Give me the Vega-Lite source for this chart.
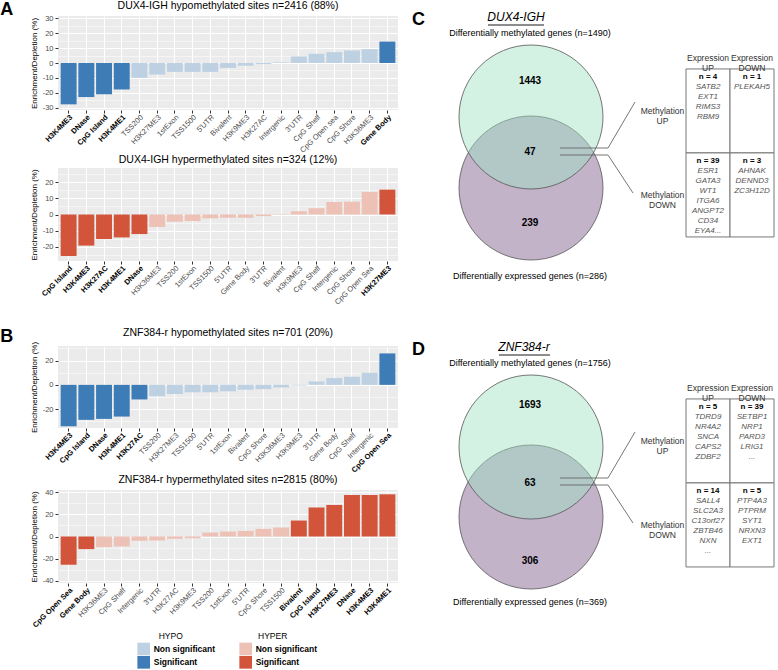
{
"$schema": "https://vega.github.io/schema/vega-lite/v6.json",
"padding": {"left": 0, "top": 0, "right": 0, "bottom": 0},
"background": "white",
"config": {
  "font": "Liberation Sans",
  "view": {"stroke": null},
  "title": {"font": "Liberation Sans", "fontSize": 10.5, "fontWeight": "normal", "color": "#000000"},
  "axis": {"labelFont": "Liberation Sans", "titleFont": "Liberation Sans"}
},
"datasets": {
  "a1": [
    {"feature": "H3K4ME3", "enrichment": -27.8, "class": "HYPO Significant"},
    {"feature": "DNase", "enrichment": -22.9, "class": "HYPO Significant"},
    {"feature": "CpG Island", "enrichment": -21.0, "class": "HYPO Significant"},
    {"feature": "H3K4ME1", "enrichment": -17.8, "class": "HYPO Significant"},
    {"feature": "TSS200", "enrichment": -10.0, "class": "HYPO Non significant"},
    {"feature": "H3K27ME3", "enrichment": -7.8, "class": "HYPO Non significant"},
    {"feature": "1stExon", "enrichment": -6.0, "class": "HYPO Non significant"},
    {"feature": "TSS1500", "enrichment": -6.0, "class": "HYPO Non significant"},
    {"feature": "5'UTR", "enrichment": -6.0, "class": "HYPO Non significant"},
    {"feature": "Bivalent", "enrichment": -3.3, "class": "HYPO Non significant"},
    {"feature": "H3K9ME3", "enrichment": -1.8, "class": "HYPO Non significant"},
    {"feature": "H3K27AC", "enrichment": -0.7, "class": "HYPO Non significant"},
    {"feature": "Intergenic", "enrichment": 0.4, "class": "HYPO Non significant"},
    {"feature": "3'UTR", "enrichment": 4.4, "class": "HYPO Non significant"},
    {"feature": "CpG Shelf", "enrichment": 6.2, "class": "HYPO Non significant"},
    {"feature": "CpG Open sea", "enrichment": 7.3, "class": "HYPO Non significant"},
    {"feature": "CpG Shore", "enrichment": 8.4, "class": "HYPO Non significant"},
    {"feature": "H3K36ME3", "enrichment": 9.3, "class": "HYPO Non significant"},
    {"feature": "Gene Body", "enrichment": 14.4, "class": "HYPO Significant"}
  ],
  "a2": [
    {"feature": "CpG Island", "enrichment": -25.9, "class": "HYPER Significant"},
    {"feature": "H3K4ME3", "enrichment": -19.4, "class": "HYPER Significant"},
    {"feature": "H3K27AC", "enrichment": -15.3, "class": "HYPER Significant"},
    {"feature": "H3K4ME1", "enrichment": -14.3, "class": "HYPER Significant"},
    {"feature": "DNase", "enrichment": -12.2, "class": "HYPER Significant"},
    {"feature": "H3K36ME3", "enrichment": -7.8, "class": "HYPER Non significant"},
    {"feature": "TSS200", "enrichment": -4.5, "class": "HYPER Non significant"},
    {"feature": "1stExon", "enrichment": -4.1, "class": "HYPER Non significant"},
    {"feature": "TSS1500", "enrichment": -2.4, "class": "HYPER Non significant"},
    {"feature": "5'UTR", "enrichment": -2.0, "class": "HYPER Non significant"},
    {"feature": "Gene Body", "enrichment": -2.0, "class": "HYPER Non significant"},
    {"feature": "3'UTR", "enrichment": -1.0, "class": "HYPER Non significant"},
    {"feature": "Bivalent", "enrichment": -0.2, "class": "HYPER Non significant"},
    {"feature": "H3K9ME3", "enrichment": 2.0, "class": "HYPER Non significant"},
    {"feature": "CpG Shelf", "enrichment": 3.9, "class": "HYPER Non significant"},
    {"feature": "Intergenic", "enrichment": 7.8, "class": "HYPER Non significant"},
    {"feature": "CpG Shore", "enrichment": 8.0, "class": "HYPER Non significant"},
    {"feature": "CpG Open Sea", "enrichment": 14.1, "class": "HYPER Non significant"},
    {"feature": "H3K27ME3", "enrichment": 15.5, "class": "HYPER Significant"}
  ],
  "b1": [
    {"feature": "H3K4ME3", "enrichment": -34.1, "class": "HYPO Significant"},
    {"feature": "CpG Island", "enrichment": -28.8, "class": "HYPO Significant"},
    {"feature": "DNase", "enrichment": -28.0, "class": "HYPO Significant"},
    {"feature": "H3K4ME1", "enrichment": -26.1, "class": "HYPO Significant"},
    {"feature": "H3K27AC", "enrichment": -12.0, "class": "HYPO Significant"},
    {"feature": "TSS200", "enrichment": -9.3, "class": "HYPO Non significant"},
    {"feature": "H3K27ME3", "enrichment": -7.5, "class": "HYPO Non significant"},
    {"feature": "TSS1500", "enrichment": -6.1, "class": "HYPO Non significant"},
    {"feature": "5'UTR", "enrichment": -6.1, "class": "HYPO Non significant"},
    {"feature": "1stExon", "enrichment": -5.3, "class": "HYPO Non significant"},
    {"feature": "Bivalent", "enrichment": -4.0, "class": "HYPO Non significant"},
    {"feature": "CpG Shore", "enrichment": -3.5, "class": "HYPO Non significant"},
    {"feature": "H3K36ME3", "enrichment": -2.1, "class": "HYPO Non significant"},
    {"feature": "H3K9ME3", "enrichment": -0.5, "class": "HYPO Non significant"},
    {"feature": "3'UTR", "enrichment": 2.7, "class": "HYPO Non significant"},
    {"feature": "Gene Body", "enrichment": 5.6, "class": "HYPO Non significant"},
    {"feature": "CpG Shelf", "enrichment": 6.7, "class": "HYPO Non significant"},
    {"feature": "Intergenic", "enrichment": 9.9, "class": "HYPO Non significant"},
    {"feature": "CpG Open Sea", "enrichment": 25.9, "class": "HYPO Significant"}
  ],
  "b2": [
    {"feature": "CpG Open Sea", "enrichment": -25.5, "class": "HYPER Significant"},
    {"feature": "Gene Body", "enrichment": -11.4, "class": "HYPER Significant"},
    {"feature": "H3K36ME3", "enrichment": -9.6, "class": "HYPER Non significant"},
    {"feature": "CpG Shelf", "enrichment": -9.0, "class": "HYPER Non significant"},
    {"feature": "Intergenic", "enrichment": -3.9, "class": "HYPER Non significant"},
    {"feature": "3'UTR", "enrichment": -3.6, "class": "HYPER Non significant"},
    {"feature": "H3K27AC", "enrichment": -2.1, "class": "HYPER Non significant"},
    {"feature": "H3K9ME3", "enrichment": -1.5, "class": "HYPER Non significant"},
    {"feature": "TSS200", "enrichment": 3.6, "class": "HYPER Non significant"},
    {"feature": "1stExon", "enrichment": 4.5, "class": "HYPER Non significant"},
    {"feature": "5'UTR", "enrichment": 5.1, "class": "HYPER Non significant"},
    {"feature": "CpG Shore", "enrichment": 6.9, "class": "HYPER Non significant"},
    {"feature": "TSS1500", "enrichment": 8.1, "class": "HYPER Non significant"},
    {"feature": "Bivalent", "enrichment": 14.4, "class": "HYPER Significant"},
    {"feature": "CpG Island", "enrichment": 26.1, "class": "HYPER Significant"},
    {"feature": "H3K27ME3", "enrichment": 28.5, "class": "HYPER Significant"},
    {"feature": "DNase", "enrichment": 37.5, "class": "HYPER Significant"},
    {"feature": "H3K4ME3", "enrichment": 37.5, "class": "HYPER Significant"},
    {"feature": "H3K4ME1", "enrichment": 38.1, "class": "HYPER Significant"}
  ],
  "legend": [
    {"group": "HYPO", "row": "title", "label": "HYPO"},
    {"group": "HYPO", "row": "Non significant", "label": "Non significant", "class": "HYPO Non significant"},
    {"group": "HYPO", "row": "Significant", "label": "Significant", "class": "HYPO Significant"},
    {"group": "HYPER", "row": "title", "label": "HYPER"},
    {"group": "HYPER", "row": "Non significant", "label": "Non significant", "class": "HYPER Non significant"},
    {"group": "HYPER", "row": "Significant", "label": "Significant", "class": "HYPER Significant"}
  ],
  "venn_c_sets": [
    {"set": "Differentially expressed genes", "x": 91, "y": 172},
    {"set": "Differentially methylated genes", "x": 91, "y": 101}
  ],
  "venn_c_text": [
    {"kind": "title", "label": "DUX4-IGH", "x": 76, "y": 1},
    {"kind": "underline", "x": 48, "x2": 104, "y": 9},
    {"kind": "caption", "label": "Differentially methylated genes (n=1490)", "x": 90, "y": 17},
    {"kind": "caption", "label": "Differentially expressed genes (n=286)", "x": 90, "y": 260},
    {"kind": "count", "label": "1443", "x": 90, "y": 65},
    {"kind": "count", "label": "47", "x": 90, "y": 136},
    {"kind": "count", "label": "239", "x": 90, "y": 207}
  ],
  "venn_c_links": [
    {"link": "Methylation UP", "step": 1, "x": 120, "y": 132},
    {"link": "Methylation UP", "step": 2, "x": 168, "y": 132},
    {"link": "Methylation UP", "step": 3, "x": 195, "y": 86},
    {"link": "Methylation DOWN", "step": 1, "x": 120, "y": 139},
    {"link": "Methylation DOWN", "step": 2, "x": 168, "y": 139},
    {"link": "Methylation DOWN", "step": 3, "x": 193, "y": 177}
  ],
  "venn_d_sets": [
    {"set": "Differentially expressed genes", "x": 91, "y": 171},
    {"set": "Differentially methylated genes", "x": 91, "y": 101}
  ],
  "venn_d_text": [
    {"kind": "title", "label": "ZNF384-r", "x": 84, "y": 1},
    {"kind": "underline", "x": 59, "x2": 110, "y": 9},
    {"kind": "caption", "label": "Differentially methylated genes (n=1756)", "x": 90, "y": 17},
    {"kind": "caption", "label": "Differentially expressed genes (n=369)", "x": 90, "y": 256},
    {"kind": "count", "label": "1693", "x": 90, "y": 59},
    {"kind": "count", "label": "63", "x": 90, "y": 137},
    {"kind": "count", "label": "306", "x": 90, "y": 215}
  ],
  "venn_d_links": [
    {"link": "Methylation UP", "step": 1, "x": 120, "y": 132},
    {"link": "Methylation UP", "step": 2, "x": 168, "y": 132},
    {"link": "Methylation UP", "step": 3, "x": 195, "y": 86},
    {"link": "Methylation DOWN", "step": 1, "x": 120, "y": 139},
    {"link": "Methylation DOWN", "step": 2, "x": 168, "y": 139},
    {"link": "Methylation DOWN", "step": 3, "x": 193, "y": 177}
  ],
  "table_c": [
    {"methylation": "Methylation UP", "expression": "Expression UP", "n": "n = 4", "genes": "SATB2\nEXT1\nRIMS3\nRBM9"},
    {"methylation": "Methylation UP", "expression": "Expression DOWN", "n": "n = 1", "genes": "PLEKAH5"},
    {"methylation": "Methylation DOWN", "expression": "Expression UP", "n": "n = 39", "genes": "ESR1\nGATA3\nWT1\nITGA6\nANGPT2\nCD34\nEYA4..."},
    {"methylation": "Methylation DOWN", "expression": "Expression DOWN", "n": "n = 3", "genes": "AHNAK\nDENND3\nZC3H12D"}
  ],
  "table_d": [
    {"methylation": "Methylation UP", "expression": "Expression UP", "n": "n = 5", "genes": "TDRD9\nNR4A2\nSNCA\nCAPS2\nZDBF2"},
    {"methylation": "Methylation UP", "expression": "Expression DOWN", "n": "n = 39", "genes": "SETBP1\nNRP1\nPARD3\nLRIG1\n..."},
    {"methylation": "Methylation DOWN", "expression": "Expression UP", "n": "n = 14", "genes": "SALL4\nSLC2A3\nC13orf27\nZBTB46\nNXN\n..."},
    {"methylation": "Methylation DOWN", "expression": "Expression DOWN", "n": "n = 5", "genes": "PTP4A3\nPTPRM\nSYT1\nNRXN3\nEXT1"}
  ]
},
"spacing": 14,
"hconcat": [
  {
    "spacing": 21,
    "vconcat": [
      {
        "title": {"text": "A", "orient": "left", "anchor": "end", "angle": 0, "fontSize": 18, "fontWeight": "bold", "baseline": "top", "offset": 4},
        "spacing": 0,
        "vconcat": [
          {
            "width": 340, "height": 94,
            "view": {"fill": "#EBEBEB", "stroke": null},
            "title": {"text": "DUX4-IGH hypomethylated sites n=2416 (88%)", "offset": 3},
            "data": {"name": "a1"},
            "mark": {"type": "bar"},
            "encoding": {
              "x": {"field": "feature", "type": "nominal", "sort": null, "title": null,
                "scale": {"paddingInner": 0.1, "paddingOuter": 0.15},
                "axis": {"labelAngle": -45, "labelAlign": "right", "labelBaseline": "top", "labelFontSize": 7.5, "labelPadding": 0, "labelOverlap": false, "tickSize": 3, "tickColor": "#333333", "domain": false, "grid": true, "gridColor": "#FFFFFF", "gridWidth": 1,
                  "labelFontWeight": {"condition": {"test": "indexof(['H3K4ME3','DNase','CpG Island','H3K4ME1','Gene Body'], datum.label) >= 0", "value": "bold"}, "value": "normal"},
                  "labelColor": {"condition": {"test": "indexof(['H3K4ME3','DNase','CpG Island','H3K4ME1','Gene Body'], datum.label) >= 0", "value": "#000000"}, "value": "#4D4D4D"}}},
              "y": {"field": "enrichment", "type": "quantitative", "title": "Enrichment/Depletion (%)",
                "scale": {"domain": [-31.6, 31.6], "nice": false, "zero": false},
                "axis": {"values": [-30, -25, -20, -15, -10, -5, 0, 5, 10, 15, 20, 25, 30], "labelExpr": "datum.value % 10 === 0 ? '' + datum.value : ''", "labelFontSize": 7.5, "labelColor": "#4D4D4D", "labelPadding": 2, "labelOverlap": false, "tickSize": 3, "tickColor": "#333333", "tickOpacity": {"condition": {"test": "datum.value % 10 === 0", "value": 1}, "value": 0}, "domain": false, "grid": true, "gridColor": "#FFFFFF", "gridWidth": {"condition": {"test": "datum.value % 10 === 0", "value": 1}, "value": 0.5}, "titleFontSize": 8, "titleFontWeight": "normal", "titleColor": "#000000", "titlePadding": 4}},
              "color": {"field": "class", "type": "nominal", "legend": null,
                "scale": {"domain": ["HYPO Non significant", "HYPO Significant", "HYPER Non significant", "HYPER Significant"], "range": ["#BDD1E3", "#3D7CB7", "#EDC1B6", "#D2543A"]}}
            }
          },
          {
            "width": 340, "height": 93,
            "view": {"fill": "#EBEBEB", "stroke": null},
            "title": {"text": "DUX4-IGH hypermethylated sites n=324 (12%)", "offset": 3},
            "data": {"name": "a2"},
            "mark": {"type": "bar"},
            "encoding": {
              "x": {"field": "feature", "type": "nominal", "sort": null, "title": null,
                "scale": {"paddingInner": 0.1, "paddingOuter": 0.15},
                "axis": {"labelAngle": -45, "labelAlign": "right", "labelBaseline": "top", "labelFontSize": 7.5, "labelPadding": 0, "labelOverlap": false, "tickSize": 3, "tickColor": "#333333", "domain": false, "grid": true, "gridColor": "#FFFFFF", "gridWidth": 1,
                  "labelFontWeight": {"condition": {"test": "indexof(['CpG Island','H3K4ME3','H3K27AC','H3K4ME1','DNase','H3K27ME3'], datum.label) >= 0", "value": "bold"}, "value": "normal"},
                  "labelColor": {"condition": {"test": "indexof(['CpG Island','H3K4ME3','H3K27AC','H3K4ME1','DNase','H3K27ME3'], datum.label) >= 0", "value": "#000000"}, "value": "#4D4D4D"}}},
              "y": {"field": "enrichment", "type": "quantitative", "title": "Enrichment/Depletion (%)",
                "scale": {"domain": [-29, 29], "nice": false, "zero": false},
                "axis": {"values": [-25, -20, -15, -10, -5, 0, 5, 10, 15, 20, 25], "labelExpr": "datum.value % 10 === 0 ? '' + datum.value : ''", "labelFontSize": 7.5, "labelColor": "#4D4D4D", "labelPadding": 2, "labelOverlap": false, "tickSize": 3, "tickColor": "#333333", "tickOpacity": {"condition": {"test": "datum.value % 10 === 0", "value": 1}, "value": 0}, "domain": false, "grid": true, "gridColor": "#FFFFFF", "gridWidth": {"condition": {"test": "datum.value % 10 === 0", "value": 1}, "value": 0.5}, "titleFontSize": 8, "titleFontWeight": "normal", "titleColor": "#000000", "titlePadding": 4}},
              "color": {"field": "class", "type": "nominal", "legend": null,
                "scale": {"domain": ["HYPO Non significant", "HYPO Significant", "HYPER Non significant", "HYPER Significant"], "range": ["#BDD1E3", "#3D7CB7", "#EDC1B6", "#D2543A"]}}
            }
          }
        ]
      },
      {
        "title": {"text": "B", "orient": "left", "anchor": "end", "angle": 0, "fontSize": 18, "fontWeight": "bold", "baseline": "top", "offset": 4},
        "spacing": 0,
        "vconcat": [
          {
            "width": 340, "height": 82,
            "view": {"fill": "#EBEBEB", "stroke": null},
            "title": {"text": "ZNF384-r hypomethylated sites n=701 (20%)", "offset": 3},
            "data": {"name": "b1"},
            "mark": {"type": "bar"},
            "encoding": {
              "x": {"field": "feature", "type": "nominal", "sort": null, "title": null,
                "scale": {"paddingInner": 0.1, "paddingOuter": 0.15},
                "axis": {"labelAngle": -45, "labelAlign": "right", "labelBaseline": "top", "labelFontSize": 7.5, "labelPadding": 0, "labelOverlap": false, "tickSize": 3, "tickColor": "#333333", "domain": false, "grid": true, "gridColor": "#FFFFFF", "gridWidth": 1,
                  "labelFontWeight": {"condition": {"test": "indexof(['H3K4ME3','CpG Island','DNase','H3K4ME1','H3K27AC','CpG Open Sea'], datum.label) >= 0", "value": "bold"}, "value": "normal"},
                  "labelColor": {"condition": {"test": "indexof(['H3K4ME3','CpG Island','DNase','H3K4ME1','H3K27AC','CpG Open Sea'], datum.label) >= 0", "value": "#000000"}, "value": "#4D4D4D"}}},
              "y": {"field": "enrichment", "type": "quantitative", "title": "Enrichment/Depletion (%)",
                "scale": {"domain": [-35.5, 32], "nice": false, "zero": false},
                "axis": {"values": [-30, -20, -10, 0, 10, 20, 30], "labelExpr": "datum.value % 20 === 0 ? '' + datum.value : ''", "labelFontSize": 7.5, "labelColor": "#4D4D4D", "labelPadding": 2, "labelOverlap": false, "tickSize": 3, "tickColor": "#333333", "tickOpacity": {"condition": {"test": "datum.value % 20 === 0", "value": 1}, "value": 0}, "domain": false, "grid": true, "gridColor": "#FFFFFF", "gridWidth": {"condition": {"test": "datum.value % 20 === 0", "value": 1}, "value": 0.5}, "titleFontSize": 8, "titleFontWeight": "normal", "titleColor": "#000000", "titlePadding": 4}},
              "color": {"field": "class", "type": "nominal", "legend": null,
                "scale": {"domain": ["HYPO Non significant", "HYPO Significant", "HYPER Non significant", "HYPER Significant"], "range": ["#BDD1E3", "#3D7CB7", "#EDC1B6", "#D2543A"]}}
            }
          },
          {
            "width": 340, "height": 93,
            "view": {"fill": "#EBEBEB", "stroke": null},
            "title": {"text": "ZNF384-r hypermethylated sites n=2815 (80%)", "offset": 3},
            "data": {"name": "b2"},
            "mark": {"type": "bar"},
            "encoding": {
              "x": {"field": "feature", "type": "nominal", "sort": null, "title": null,
                "scale": {"paddingInner": 0.1, "paddingOuter": 0.15},
                "axis": {"labelAngle": -45, "labelAlign": "right", "labelBaseline": "top", "labelFontSize": 7.5, "labelPadding": 0, "labelOverlap": false, "tickSize": 3, "tickColor": "#333333", "domain": false, "grid": true, "gridColor": "#FFFFFF", "gridWidth": 1,
                  "labelFontWeight": {"condition": {"test": "indexof(['CpG Open Sea','Gene Body','Bivalent','CpG Island','H3K27ME3','DNase','H3K4ME3','H3K4ME1'], datum.label) >= 0", "value": "bold"}, "value": "normal"},
                  "labelColor": {"condition": {"test": "indexof(['CpG Open Sea','Gene Body','Bivalent','CpG Island','H3K27ME3','DNase','H3K4ME3','H3K4ME1'], datum.label) >= 0", "value": "#000000"}, "value": "#4D4D4D"}}},
              "y": {"field": "enrichment", "type": "quantitative", "title": "Enrichment/Depletion (%)",
                "scale": {"domain": [-42, 42], "nice": false, "zero": false},
                "axis": {"values": [-40, -30, -20, -10, 0, 10, 20, 30, 40], "labelExpr": "datum.value % 20 === 0 ? '' + datum.value : ''", "labelFontSize": 7.5, "labelColor": "#4D4D4D", "labelPadding": 2, "labelOverlap": false, "tickSize": 3, "tickColor": "#333333", "tickOpacity": {"condition": {"test": "datum.value % 20 === 0", "value": 1}, "value": 0}, "domain": false, "grid": true, "gridColor": "#FFFFFF", "gridWidth": {"condition": {"test": "datum.value % 20 === 0", "value": 1}, "value": 0.5}, "titleFontSize": 8, "titleFontWeight": "normal", "titleColor": "#000000", "titlePadding": 4}},
              "color": {"field": "class", "type": "nominal", "legend": null,
                "scale": {"domain": ["HYPO Non significant", "HYPO Significant", "HYPER Non significant", "HYPER Significant"], "range": ["#BDD1E3", "#3D7CB7", "#EDC1B6", "#D2543A"]}}
            }
          },
          {
            "width": 340, "height": 40,
            "data": {"name": "legend"},
            "layer": [
              {
                "transform": [{"filter": "datum.row !== 'title'"}],
                "mark": {"type": "point", "shape": "square", "filled": true, "size": 160, "opacity": 1},
                "encoding": {
                  "x": {"field": "group", "type": "nominal", "axis": null, "bandPosition": 0, "scale": {"type": "band", "domain": ["HYPO", "HYPER"], "paddingInner": 0, "paddingOuter": 0.667, "align": 0.63}},
                  "y": {"field": "row", "type": "nominal", "axis": null, "sort": ["title", "Non significant", "Significant"], "scale": {"paddingInner": 0, "paddingOuter": 0}},
                  "color": {"field": "class", "type": "nominal", "legend": null,
                    "scale": {"domain": ["HYPO Non significant", "HYPO Significant", "HYPER Non significant", "HYPER Significant"], "range": ["#BDD1E3", "#3D7CB7", "#EDC1B6", "#D2543A"]}}
                }
              },
              {
                "transform": [{"filter": "datum.row !== 'title'"}],
                "mark": {"type": "text", "align": "left", "baseline": "middle", "dx": 10, "fontSize": 8.5, "fontWeight": "bold", "color": "#000000"},
                "encoding": {
                  "x": {"field": "group", "type": "nominal", "axis": null, "bandPosition": 0, "scale": {"type": "band", "domain": ["HYPO", "HYPER"], "paddingInner": 0, "paddingOuter": 0.667, "align": 0.63}},
                  "y": {"field": "row", "type": "nominal", "axis": null, "sort": ["title", "Non significant", "Significant"], "scale": {"paddingInner": 0, "paddingOuter": 0}},
                  "text": {"field": "label"}
                }
              },
              {
                "transform": [{"filter": "datum.row === 'title'"}],
                "mark": {"type": "text", "align": "center", "baseline": "middle", "dx": 27, "fontSize": 8.5, "color": "#000000"},
                "encoding": {
                  "x": {"field": "group", "type": "nominal", "axis": null, "bandPosition": 0, "scale": {"type": "band", "domain": ["HYPO", "HYPER"], "paddingInner": 0, "paddingOuter": 0.667, "align": 0.63}},
                  "y": {"field": "row", "type": "nominal", "axis": null, "sort": ["title", "Non significant", "Significant"], "scale": {"paddingInner": 0, "paddingOuter": 0}},
                  "text": {"field": "label"}
                }
              }
            ]
          }
        ]
      }
    ]
  },
  {
    "spacing": 35,
    "vconcat": [
      {
        "title": {"text": "C", "orient": "left", "anchor": "end", "angle": 0, "fontSize": 18, "fontWeight": "bold", "baseline": "top", "offset": 2},
        "spacing": 0,
        "hconcat": [
          {
            "width": 200, "height": 290,
            "encoding": {
              "x": {"field": "x", "type": "quantitative", "axis": null, "scale": {"domain": [0, 200], "nice": false, "zero": false}},
              "y": {"field": "y", "type": "quantitative", "axis": null, "scale": {"domain": [0, 290], "nice": false, "zero": false, "reverse": true}}
            },
            "layer": [
              {
                "data": {"name": "venn_c_sets"},
                "mark": {"type": "point", "shape": "circle", "filled": true, "size": 20736, "opacity": 1, "stroke": "#555555", "strokeWidth": 0.8},
                "encoding": {"fill": {"field": "set", "type": "nominal", "legend": null, "scale": {"domain": ["Differentially expressed genes", "Differentially methylated genes"], "range": ["#C2B3C9", "rgba(159,227,196,0.45)"]}}}
              },
              {
                "data": {"name": "venn_c_links"},
                "mark": {"type": "line", "color": "#666666", "strokeWidth": 0.9},
                "encoding": {"detail": {"field": "link"}, "order": {"field": "step"}}
              },
              {
                "data": {"name": "venn_c_text"},
                "transform": [{"filter": "datum.kind === 'underline'"}],
                "mark": {"type": "rule", "color": "#000000", "strokeWidth": 0.9},
                "encoding": {"x2": {"field": "x2"}}
              },
              {
                "data": {"name": "venn_c_text"},
                "transform": [{"filter": "datum.kind === 'title'"}],
                "mark": {"type": "text", "fontSize": 12, "fontStyle": "italic", "baseline": "middle", "color": "#000000"},
                "encoding": {"text": {"field": "label"}}
              },
              {
                "data": {"name": "venn_c_text"},
                "transform": [{"filter": "datum.kind === 'caption'"}],
                "mark": {"type": "text", "fontSize": 9, "baseline": "middle", "color": "#000000"},
                "encoding": {"text": {"field": "label"}}
              },
              {
                "data": {"name": "venn_c_text"},
                "transform": [{"filter": "datum.kind === 'count'"}],
                "mark": {"type": "text", "fontSize": 10, "fontWeight": "bold", "baseline": "middle", "color": "#000000"},
                "encoding": {"text": {"field": "label"}}
              }
            ]
          },
          {
            "width": 88, "height": 290,
            "data": {"name": "table_c"},
            "encoding": {
              "x": {"field": "expression", "type": "nominal", "sort": ["Expression UP", "Expression DOWN"], "title": null, "axis": null, "scale": {"paddingInner": 0, "paddingOuter": 0}},
              "y": {"field": "methylation", "type": "nominal", "sort": ["Methylation UP", "Methylation DOWN"], "title": null, "scale": {"paddingInner": 0, "paddingOuter": 0.726, "align": 0.434},
                "axis": {"labelExpr": "split(datum.label, ' ')", "labelAlign": "center", "labelBaseline": "middle", "ticks": false, "domain": false, "labelPadding": 24, "labelFontSize": 8.5, "labelColor": "#333333", "labelLineHeight": 10}}
            },
            "layer": [
              {"mark": {"type": "rect", "fill": "#FFFFFF", "stroke": "#777777", "strokeWidth": 1}},
              {
                "transform": [{"filter": "datum.methylation === 'Methylation UP'"}],
                "mark": {"type": "text", "fontSize": 8.5, "baseline": "bottom", "dy": -6, "lineBreak": " ", "lineHeight": 10, "color": "#333333"},
                "encoding": {
                  "y": {"field": "methylation", "type": "nominal", "sort": ["Methylation UP", "Methylation DOWN"], "title": null, "bandPosition": 0, "scale": {"paddingInner": 0, "paddingOuter": 0.726, "align": 0.434}},
                  "text": {"field": "expression"}
                }
              },
              {
                "mark": {"type": "text", "fontSize": 8, "fontWeight": "bold", "baseline": "top", "dy": 4, "color": "#000000"},
                "encoding": {
                  "y": {"field": "methylation", "type": "nominal", "sort": ["Methylation UP", "Methylation DOWN"], "title": null, "bandPosition": 0, "scale": {"paddingInner": 0, "paddingOuter": 0.726, "align": 0.434}},
                  "text": {"field": "n"}
                }
              },
              {
                "mark": {"type": "text", "fontSize": 8, "fontStyle": "italic", "baseline": "top", "dy": 14, "lineHeight": 10, "lineBreak": "\n", "color": "#555555"},
                "encoding": {
                  "y": {"field": "methylation", "type": "nominal", "sort": ["Methylation UP", "Methylation DOWN"], "title": null, "bandPosition": 0, "scale": {"paddingInner": 0, "paddingOuter": 0.726, "align": 0.434}},
                  "text": {"field": "genes"}
                }
              }
            ]
          }
        ]
      },
      {
        "title": {"text": "D", "orient": "left", "anchor": "end", "angle": 0, "fontSize": 18, "fontWeight": "bold", "baseline": "top", "offset": 2},
        "spacing": 0,
        "hconcat": [
          {
            "width": 200, "height": 290,
            "encoding": {
              "x": {"field": "x", "type": "quantitative", "axis": null, "scale": {"domain": [0, 200], "nice": false, "zero": false}},
              "y": {"field": "y", "type": "quantitative", "axis": null, "scale": {"domain": [0, 290], "nice": false, "zero": false, "reverse": true}}
            },
            "layer": [
              {
                "data": {"name": "venn_d_sets"},
                "mark": {"type": "point", "shape": "circle", "filled": true, "size": 20736, "opacity": 1, "stroke": "#555555", "strokeWidth": 0.8},
                "encoding": {"fill": {"field": "set", "type": "nominal", "legend": null, "scale": {"domain": ["Differentially expressed genes", "Differentially methylated genes"], "range": ["#C2B3C9", "rgba(159,227,196,0.45)"]}}}
              },
              {
                "data": {"name": "venn_d_links"},
                "mark": {"type": "line", "color": "#666666", "strokeWidth": 0.9},
                "encoding": {"detail": {"field": "link"}, "order": {"field": "step"}}
              },
              {
                "data": {"name": "venn_d_text"},
                "transform": [{"filter": "datum.kind === 'underline'"}],
                "mark": {"type": "rule", "color": "#000000", "strokeWidth": 0.9},
                "encoding": {"x2": {"field": "x2"}}
              },
              {
                "data": {"name": "venn_d_text"},
                "transform": [{"filter": "datum.kind === 'title'"}],
                "mark": {"type": "text", "fontSize": 12, "fontStyle": "italic", "baseline": "middle", "color": "#000000"},
                "encoding": {"text": {"field": "label"}}
              },
              {
                "data": {"name": "venn_d_text"},
                "transform": [{"filter": "datum.kind === 'caption'"}],
                "mark": {"type": "text", "fontSize": 9, "baseline": "middle", "color": "#000000"},
                "encoding": {"text": {"field": "label"}}
              },
              {
                "data": {"name": "venn_d_text"},
                "transform": [{"filter": "datum.kind === 'count'"}],
                "mark": {"type": "text", "fontSize": 10, "fontWeight": "bold", "baseline": "middle", "color": "#000000"},
                "encoding": {"text": {"field": "label"}}
              }
            ]
          },
          {
            "width": 88, "height": 290,
            "data": {"name": "table_d"},
            "encoding": {
              "x": {"field": "expression", "type": "nominal", "sort": ["Expression UP", "Expression DOWN"], "title": null, "axis": null, "scale": {"paddingInner": 0, "paddingOuter": 0}},
              "y": {"field": "methylation", "type": "nominal", "sort": ["Methylation UP", "Methylation DOWN"], "title": null, "scale": {"paddingInner": 0, "paddingOuter": 0.726, "align": 0.434},
                "axis": {"labelExpr": "split(datum.label, ' ')", "labelAlign": "center", "labelBaseline": "middle", "ticks": false, "domain": false, "labelPadding": 24, "labelFontSize": 8.5, "labelColor": "#333333", "labelLineHeight": 10}}
            },
            "layer": [
              {"mark": {"type": "rect", "fill": "#FFFFFF", "stroke": "#777777", "strokeWidth": 1}},
              {
                "transform": [{"filter": "datum.methylation === 'Methylation UP'"}],
                "mark": {"type": "text", "fontSize": 8.5, "baseline": "bottom", "dy": -6, "lineBreak": " ", "lineHeight": 10, "color": "#333333"},
                "encoding": {
                  "y": {"field": "methylation", "type": "nominal", "sort": ["Methylation UP", "Methylation DOWN"], "title": null, "bandPosition": 0, "scale": {"paddingInner": 0, "paddingOuter": 0.726, "align": 0.434}},
                  "text": {"field": "expression"}
                }
              },
              {
                "mark": {"type": "text", "fontSize": 8, "fontWeight": "bold", "baseline": "top", "dy": 4, "color": "#000000"},
                "encoding": {
                  "y": {"field": "methylation", "type": "nominal", "sort": ["Methylation UP", "Methylation DOWN"], "title": null, "bandPosition": 0, "scale": {"paddingInner": 0, "paddingOuter": 0.726, "align": 0.434}},
                  "text": {"field": "n"}
                }
              },
              {
                "mark": {"type": "text", "fontSize": 8, "fontStyle": "italic", "baseline": "top", "dy": 14, "lineHeight": 10, "lineBreak": "\n", "color": "#555555"},
                "encoding": {
                  "y": {"field": "methylation", "type": "nominal", "sort": ["Methylation UP", "Methylation DOWN"], "title": null, "bandPosition": 0, "scale": {"paddingInner": 0, "paddingOuter": 0.726, "align": 0.434}},
                  "text": {"field": "genes"}
                }
              }
            ]
          }
        ]
      }
    ]
  }
]
}
